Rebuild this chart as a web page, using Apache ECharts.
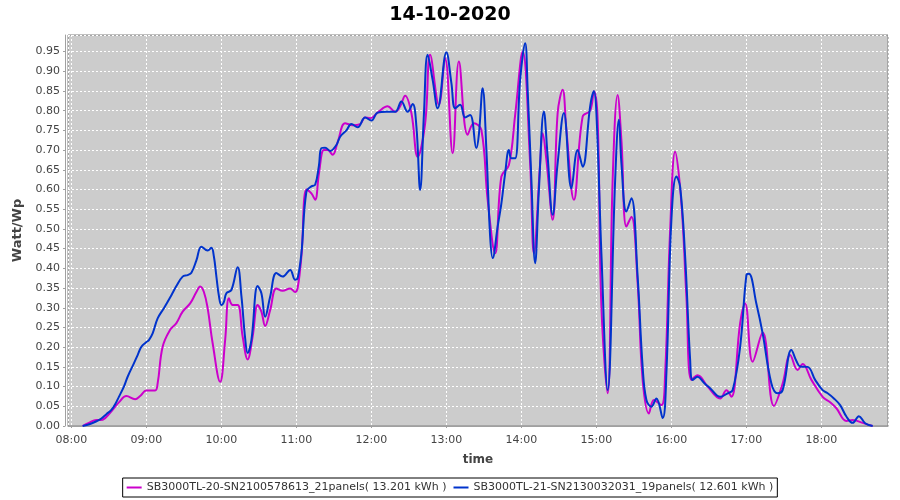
<!DOCTYPE html>
<html>
<head>
<meta charset="utf-8">
<script src="https://cdn.jsdelivr.net/npm/echarts@6/dist/echarts.min.js"></script>
<style>
html,body{margin:0;padding:0;background:#fff;}
#chart{width:900px;height:500px;}
</style>
</head>
<body>
<div id="chart"></div>
<script>
var titleText = '14-10-2020';
var seriesNames = ['SB3000TL-20-SN2100578613_21panels( 13.201 kWh )', 'SB3000TL-21-SN2130032031_19panels( 12.601 kWh )'];

var timesA = ['08:09','08:14','08:20','08:23','08:27','08:33','08:38','08:44','08:51','08:55','09:00','09:07','09:09','09:13','09:19','09:24','09:29','09:35','09:40','09:43','09:46','09:49','09:53','09:59','10:03','10:06','10:09','10:13','10:17','10:21','10:25','10:29','10:32','10:35','10:39','10:44','10:49','10:55','10:59','11:01','11:04','11:08','11:12','11:15','11:18','11:22','11:25','11:29','11:33','11:39','11:45','11:51','11:55','11:59','12:05','12:13','12:19','12:23','12:27','12:32','12:37','12:43','12:47','12:54','12:59','13:05','13:10','13:17','13:22','13:28','13:33','13:39','13:44','13:50','13:55','14:01','14:07','14:10','14:15','14:17','14:20','14:25','14:29','14:33','14:36','14:42','14:49','14:55','14:58','15:01','15:04','15:09','15:13','15:17','15:20','15:24','15:28','15:33','15:37','15:42','15:46','15:52','15:55','15:59','16:03','16:08','16:12','16:16','16:21','16:29','16:39','16:44','16:48','16:55','16:59','17:05','17:13','17:22','17:29','17:35','17:41','17:45','17:52','18:01','18:07','18:12','18:20','18:25','18:33','18:41'];
var valuesA = [0.000,0.008,0.015,0.015,0.020,0.041,0.060,0.076,0.068,0.076,0.090,0.090,0.108,0.201,0.244,0.261,0.290,0.311,0.340,0.354,0.340,0.299,0.210,0.112,0.218,0.324,0.307,0.307,0.227,0.169,0.227,0.307,0.290,0.254,0.294,0.349,0.343,0.349,0.340,0.350,0.430,0.600,0.590,0.574,0.640,0.700,0.700,0.688,0.720,0.768,0.763,0.766,0.783,0.781,0.795,0.811,0.797,0.811,0.838,0.794,0.683,0.768,0.942,0.815,0.933,0.692,0.925,0.739,0.768,0.751,0.574,0.438,0.633,0.662,0.789,0.950,0.667,0.438,0.667,0.743,0.675,0.523,0.794,0.853,0.751,0.574,0.785,0.800,0.849,0.777,0.303,0.083,0.624,0.840,0.726,0.506,0.531,0.362,0.117,0.032,0.066,0.053,0.134,0.497,0.696,0.565,0.328,0.117,0.129,0.100,0.070,0.091,0.074,0.261,0.311,0.163,0.237,0.051,0.108,0.180,0.142,0.157,0.117,0.074,0.060,0.045,0.013,0.015,0.008,0.000];

var timesB = ['08:09','08:15','08:20','08:24','08:28','08:32','08:35','08:38','08:42','08:45','08:50','08:53','08:56','09:00','09:02','09:05','09:09','09:14','09:20','09:24','09:29','09:33','09:36','09:40','09:44','09:49','09:52','09:54','09:56','09:58','10:00','10:02','10:04','10:08','10:13','10:16','10:19','10:21','10:24','10:29','10:32','10:35','10:39','10:44','10:49','10:55','10:59','11:01','11:04','11:08','11:12','11:15','11:18','11:20','11:23','11:27','11:32','11:35','11:40','11:44','11:49','11:55','12:00','12:05','12:12','12:19','12:24','12:29','12:33','12:36','12:39','12:42','12:45','12:49','12:53','13:00','13:04','13:07','13:11','13:15','13:19','13:24','13:26','13:29','13:32','13:35','13:37','13:41','13:44','13:47','13:50','13:52','13:55','13:59','14:03','14:05','14:08','14:11','14:14','14:18','14:21','14:25','14:29','14:34','14:40','14:45','14:49','14:55','14:58','15:00','15:04','15:09','15:15','15:18','15:20','15:24','15:28','15:33','15:37','15:40','15:44','15:48','15:53','15:56','16:00','16:04','16:07','16:11','16:15','16:17','16:21','16:26','16:31','16:39','16:45','16:49','16:55','17:00','17:02','17:08','17:13','17:20','17:25','17:29','17:36','17:40','17:43','17:49','17:55','18:01','18:05','18:10','18:15','18:20','18:25','18:30','18:35','18:41'];
var valuesB = [0.000,0.005,0.012,0.019,0.030,0.041,0.055,0.074,0.100,0.125,0.159,0.180,0.201,0.213,0.218,0.235,0.273,0.299,0.332,0.355,0.379,0.383,0.389,0.420,0.455,0.445,0.452,0.430,0.379,0.330,0.307,0.315,0.337,0.345,0.403,0.330,0.223,0.185,0.218,0.355,0.337,0.277,0.328,0.388,0.379,0.396,0.371,0.375,0.438,0.595,0.608,0.612,0.660,0.705,0.706,0.698,0.713,0.734,0.750,0.766,0.758,0.783,0.775,0.795,0.797,0.797,0.823,0.797,0.817,0.760,0.599,0.790,0.942,0.878,0.806,0.948,0.870,0.806,0.815,0.783,0.789,0.705,0.740,0.857,0.700,0.480,0.426,0.506,0.565,0.641,0.700,0.679,0.679,0.878,0.971,0.853,0.624,0.413,0.599,0.798,0.684,0.536,0.667,0.794,0.603,0.700,0.658,0.811,0.849,0.794,0.438,0.091,0.624,0.777,0.667,0.544,0.578,0.379,0.150,0.066,0.049,0.070,0.020,0.134,0.523,0.633,0.607,0.430,0.168,0.117,0.125,0.110,0.096,0.074,0.083,0.091,0.201,0.383,0.386,0.310,0.235,0.108,0.083,0.091,0.193,0.165,0.151,0.150,0.117,0.091,0.083,0.070,0.053,0.024,0.008,0.025,0.007,0.000];

var xTickFormat = '{HH}:{mm}';

function ts(hhmm){
  var p = hhmm.split(':');
  return new Date(2020, 9, 14, +p[0], +p[1]).getTime();
}
function pairs(times, vals){
  return times.map(function(t, i){ return [ts(t), vals[i]]; });
}

var xMin = new Date(2020, 9, 14, 7, 57, 17).getTime();
var xMax = new Date(2020, 9, 14, 18, 53, 17).getTime();

var chart = echarts.init(document.getElementById('chart'), null, {renderer:'canvas'});
var font = 'DejaVu Sans, sans-serif';
chart.setOption({
  animation: false,
  backgroundColor: '#ffffff',
  title: {
    text: titleText, left: 'center', top: 1,
    textStyle: {fontFamily: font, fontSize: 19, fontWeight: 'bold', color: '#000'}
  },
  legend: {
    data: seriesNames,
    top: 478, left: 'center',
    borderColor: '#000', borderWidth: 1, borderRadius: 0,
    padding: [4, 4, 4, 4],
    itemGap: 7, itemWidth: 15, itemHeight: 2,
    icon: 'rect',
    textStyle: {fontFamily: font, fontSize: 11, color: '#333'}
  },
  grid: {
    left: 68, right: 12, top: 35, bottom: 74,
    show: true, backgroundColor: '#cccccc', borderColor: '#808080', borderWidth: 1,
    containLabel: false
  },
  xAxis: {
    type: 'time', min: xMin, max: xMax,
    minInterval: 3600000, maxInterval: 3600000,
    offset: 4,
    name: 'time', nameLocation: 'middle', nameGap: 24,
    nameTextStyle: {fontFamily: font, fontSize: 12, fontWeight: 'bold', color: '#444'},
    axisLine: {show: true, lineStyle: {color: '#a0a0a0', width: 1}},
    axisTick: {show: true, length: 2, lineStyle: {color: '#a0a0a0'}},
    axisLabel: {fontFamily: font, fontSize: 11, color: '#444', margin: 5, formatter: xTickFormat, showMinLabel: false, showMaxLabel: false},
    splitLine: {show: true, lineStyle: {color: '#ffffff', type: [2, 2], width: 1}}
  },
  yAxis: {
    type: 'value', min: 0, max: 0.992, interval: 0.05,
    offset: 3,
    name: 'Watt/Wp', nameLocation: 'middle', nameGap: 35, nameRotate: 90,
    nameTextStyle: {fontFamily: font, fontSize: 13, fontWeight: 'bold', color: '#444'},
    axisLine: {show: true, lineStyle: {color: '#a0a0a0', width: 1}},
    axisTick: {show: true, length: 2, lineStyle: {color: '#a0a0a0'}},
    axisLabel: {fontFamily: font, fontSize: 11, color: '#444', margin: 5, showMaxLabel: false,
      formatter: function(v){ return v.toFixed(2); }},
    splitLine: {show: true, lineStyle: {color: '#ffffff', type: [2, 2], width: 1}}
  },
  series: [
    {name: seriesNames[0], type: 'line', data: pairs(timesA, valuesA), smooth: 0.4, symbol: 'none',
     itemStyle: {color: '#cc00cc'}, lineStyle: {color: '#cc00cc', width: 2}},
    {name: seriesNames[1], type: 'line', data: pairs(timesB, valuesB), smooth: 0.4, symbol: 'none',
     itemStyle: {color: '#0033cc'}, lineStyle: {color: '#0033cc', width: 2}}
  ]
});
</script>
</body>
</html>
